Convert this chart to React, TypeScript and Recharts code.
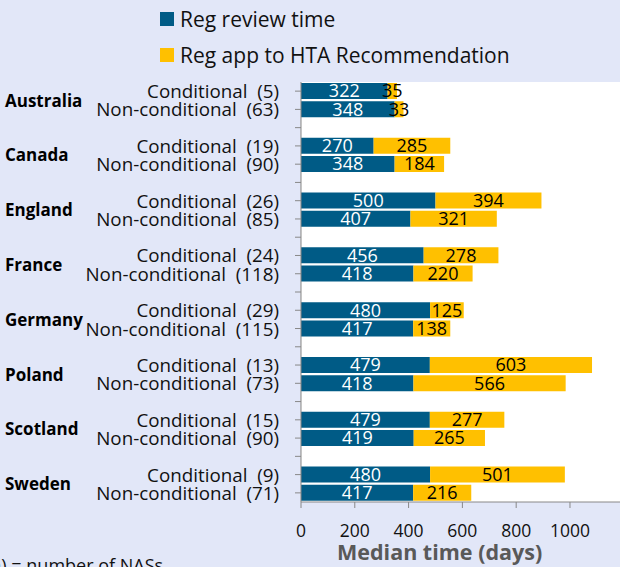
import React from 'react';
import {
  BarChart,
  Bar,
  XAxis,
  YAxis,
  CartesianGrid,
  LabelList,
} from 'recharts';

const countries = ['Australia', 'Canada', 'England', 'France', 'Germany', 'Poland', 'Scotland', 'Sweden'];
const conditionalN = [5, 19, 26, 24, 29, 13, 15, 9];
const nonConditionalN = [63, 90, 85, 118, 115, 73, 90, 71];
const reviewConditional = [322, 270, 500, 456, 480, 479, 479, 480];
const htaConditional = [35, 285, 394, 278, 125, 603, 277, 501];
const reviewNonConditional = [348, 348, 407, 418, 417, 418, 419, 417];
const htaNonConditional = [33, 184, 321, 220, 138, 566, 265, 216];
const xTicks = [0, 200, 400, 600, 800, 1000];

const BLUE = '#005B86';
const YELLOW = '#FFC000';
const BG = '#E2E7F8';

type Row = {
  key: string;
  country?: string;
  label?: string;
  review?: number | null;
  hta?: number | null;
};

// conditional row, non-conditional row, then an empty spacer row
const rows: Row[] = [];
countries.forEach((c, i) => {
  rows.push({
    key: `${c}-c`,
    country: c,
    label: `Conditional  (${conditionalN[i]})`,
    review: reviewConditional[i],
    hta: htaConditional[i],
  });
  rows.push({
    key: `${c}-n`,
    label: `Non-conditional  (${nonConditionalN[i]})`,
    review: reviewNonConditional[i],
    hta: htaNonConditional[i],
  });
  if (i < countries.length - 1) rows.push({ key: `gap-${i}`, review: null, hta: null });
});

function RowTick({ y, payload }: any) {
  const row = rows.find((r) => r.key === payload.value);
  if (!row) return null;
  return (
    <g>
      {row.country && (
        <text x={5} y={y + 9} fontSize={17} fontWeight="bold" fill="#000" dominantBaseline="central">
          {row.country}
        </text>
      )}
      {row.label && (
        <text
          x={279}
          y={y}
          fontSize={18.8}
          fill="#111"
          textAnchor="end"
          dominantBaseline="central"
          style={{ whiteSpace: 'pre' }}
        >
          {row.label}
        </text>
      )}
    </g>
  );
}

export default function App() {
  return (
    <div
      style={{
        position: 'absolute',
        left: 0,
        top: 0,
        width: 620,
        height: 567,
        overflow: 'hidden',
        background: BG,
        fontFamily: '"Open Sans", sans-serif',
      }}
    >
      <div style={{ position: 'absolute', left: 160, top: 1, fontSize: 21, color: '#111', lineHeight: '36px' }}>
        <div style={{ display: 'flex', alignItems: 'center' }}>
          <span style={{ width: 14, height: 14, background: BLUE, marginRight: 6, display: 'inline-block' }} />
          Reg review time
        </div>
        <div style={{ display: 'flex', alignItems: 'center' }}>
          <span style={{ width: 14, height: 14, background: YELLOW, marginRight: 6, display: 'inline-block' }} />
          Reg app to HTA Recommendation
        </div>
      </div>

      <div style={{ position: 'absolute', left: 0, top: 0 }}>
        <BarChart
          width={620}
          height={567}
          data={rows}
          layout="vertical"
          barSize={16}
          margin={{ top: 82, right: 0, bottom: 0, left: 0 }}
        >
          <rect x={301} y={82} width={319} height={420} fill="#fff" />
          <CartesianGrid horizontal={false} stroke="#d9d9d9" />
          <XAxis
            type="number"
            domain={[0, 1186]}
            ticks={xTicks}
            allowDataOverflow
            height={65}
            tickSize={6}
            tickMargin={17}
            stroke="#888"
            tick={{ fill: '#111', fontSize: 17.5 }}
          />
          <YAxis
            type="category"
            dataKey="key"
            width={301}
            interval={0}
            tickSize={6}
            stroke="#888"
            tick={<RowTick />}
          />
          <Bar dataKey="review" stackId="a" fill={BLUE} isAnimationActive={false}>
            <LabelList dataKey="review" position="center" fill="#fff" fontSize={18} />
          </Bar>
          <Bar dataKey="hta" stackId="a" fill={YELLOW} isAnimationActive={false}>
            <LabelList dataKey="hta" position="center" fill="#000" fontSize={18} />
          </Bar>
        </BarChart>
      </div>

      <div
        style={{
          position: 'absolute',
          left: 337,
          top: 537,
          fontSize: 21.5,
          fontWeight: 'bold',
          color: '#595959',
          whiteSpace: 'nowrap',
        }}
      >
        Median time (days)
      </div>
      <div style={{ position: 'absolute', left: -15, top: 553, fontSize: 18, color: '#111', whiteSpace: 'nowrap' }}>
        (n) = number of NASs
      </div>
    </div>
  );
}
